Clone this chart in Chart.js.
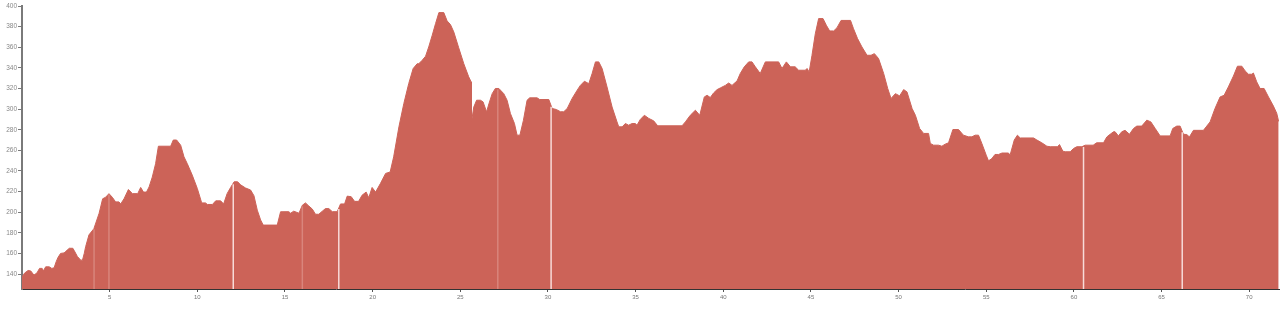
<!DOCTYPE html>
<html>
<head>
<meta charset="utf-8">
<script src="https://cdn.jsdelivr.net/npm/chart.js@4/dist/chart.umd.min.js"></script>
<style>
  html, body { margin: 0; padding: 0; background: #ffffff; }
  #wrap { width: 1284px; height: 309px; }
</style>
</head>
<body>
<div id="wrap"><canvas id="c" width="1284" height="309"></canvas></div>
<script>
// Distance along route (km)
const distanceKm = [
  0.0, 0.15, 0.35, 0.5, 0.68, 0.85, 1.0, 1.15, 1.22, 1.35, 1.55, 1.7, 1.83, 1.95, 2.05, 2.2, 2.4, 2.5, 2.7, 2.9,
  2.97, 3.16, 3.35, 3.45, 3.55, 3.63, 3.82, 4.1, 4.4, 4.6, 4.77, 4.96, 5.15, 5.34, 5.53, 5.63, 5.82, 6.07, 6.3, 6.6,
  6.77, 6.93, 7.1, 7.25, 7.43, 7.62, 7.78, 8.48, 8.63, 8.82, 9.05, 9.24, 9.43, 9.71, 10.0, 10.25, 10.47, 10.57, 10.86, 11.05,
  11.33, 11.5, 11.7, 11.9, 12.1, 12.3, 12.47, 12.75, 13.04, 13.23, 13.42, 13.61, 13.76, 14.56, 14.75, 15.22, 15.32, 15.5, 15.8, 15.99,
  16.17, 16.36, 16.56, 16.74, 16.93, 17.13, 17.31, 17.5, 17.7, 17.98, 18.17, 18.4, 18.55, 18.78, 18.97, 19.2, 19.4, 19.63, 19.78, 19.97,
  20.17, 20.45, 20.74, 21.0, 21.2, 21.5, 21.78, 22.06, 22.31, 22.54, 22.63, 22.83, 23.02, 23.2, 23.4, 23.59, 23.78, 24.06, 24.25, 24.44,
  24.63, 24.9, 25.2, 25.48, 25.62, 25.64, 25.77, 25.93, 26.15, 26.3, 26.5, 26.63, 26.82, 27.0, 27.2, 27.48, 27.67, 27.86, 28.09, 28.24,
  28.4, 28.6, 28.81, 28.96, 29.38, 29.53, 30.05, 30.24, 30.48, 30.72, 30.9, 31.1, 31.38, 31.67, 31.85, 32.08, 32.33, 32.52, 32.71, 32.9,
  33.09, 33.37, 33.66, 33.94, 34.04, 34.23, 34.42, 34.6, 34.8, 34.98, 35.08, 35.27, 35.5, 35.75, 36.03, 36.26, 37.65, 37.84, 38.12, 38.41,
  38.66, 38.92, 39.08, 39.26, 39.45, 39.65, 39.83, 40.12, 40.31, 40.5, 40.79, 40.97, 41.2, 41.45, 41.64, 41.83, 42.11, 42.4, 43.16, 43.35,
  43.6, 43.83, 44.1, 44.3, 44.68, 44.78, 44.9, 45.06, 45.25, 45.44, 45.69, 45.88, 46.07, 46.3, 46.49, 46.72, 47.26, 47.43, 47.66, 47.91,
  48.2, 48.43, 48.62, 48.86, 49.15, 49.38, 49.57, 49.82, 50.06, 50.29, 50.48, 50.77, 50.96, 51.2, 51.43, 51.71, 51.81, 52.0, 52.28, 52.47,
  52.66, 52.85, 53.1, 53.42, 53.7, 53.99, 54.18, 54.37, 54.56, 54.75, 55.0, 55.13, 55.32, 55.5, 55.7, 55.9, 56.27, 56.36, 56.6, 56.78,
  56.94, 57.7, 57.89, 58.17, 58.46, 58.65, 59.07, 59.18, 59.37, 59.5, 59.79, 59.98, 60.17, 60.46, 60.64, 61.1, 61.3, 61.69, 61.88, 62.07,
  62.26, 62.35, 62.54, 62.73, 62.92, 63.17, 63.4, 63.59, 63.87, 64.16, 64.39, 64.64, 64.92, 65.49, 65.64, 65.87, 66.06, 66.25, 66.44, 66.59,
  66.82, 67.39, 67.58, 67.77, 68.05, 68.34, 68.57, 68.81, 69.1, 69.33, 69.58, 69.77, 69.96, 70.15, 70.24, 70.43, 70.62, 70.85, 71.1, 71.38,
  71.57, 71.68
];

// Elevation (m)
const elevationM = [
  137, 141, 143.5, 143, 139, 141, 145.5, 145.5, 143, 147, 147, 145.5, 146, 152, 156, 160, 160.5, 162, 165, 165,
  163, 157, 153.5, 153.5, 160, 166.5, 178, 184, 199, 213, 214.5, 218, 214.5, 210, 210, 208, 213, 222, 218, 218,
  224, 219.5, 219.5, 224.5, 234, 247, 264, 264, 270, 270, 265, 253.7, 247, 236, 223, 209, 209, 207.5, 207.5, 211,
  211, 208, 218, 224, 229.5, 229.5, 226.5, 223.5, 221.5, 216, 202, 192.5, 187.5, 187.5, 200.4, 200.5, 199, 201, 199, 206.7,
  209, 206, 203, 198, 198, 201, 203.5, 203.5, 200.5, 200.5, 208, 208, 215.6, 215, 210.5, 210.5, 216.5, 219.5, 214, 224,
  219.5, 228, 237.6, 239, 253.7, 282.8, 305.4, 324.8, 339.3, 344, 344, 347.4, 351.3, 360.3, 371.6, 383, 393.6, 393.6, 385.5, 382,
  374.8, 360, 344, 331.3, 326.4, 287.6, 302, 308.6, 308.6, 307, 297.3, 305, 315, 320, 320, 315, 308.6, 295.7, 286, 274.7,
  274.7, 289, 308.6, 310.9, 310.9, 309.3, 309.3, 300.6, 299.6, 297.4, 297.4, 300.6, 310.3, 318.4, 323, 327, 324.7, 334.5, 345.8, 345.8,
  339.4, 321.5, 302, 287.6, 282.8, 282.8, 286, 284.4, 286, 286, 284.4, 290, 294, 291, 288.6, 283.8, 283.8, 287.6, 294, 298.9,
  294, 311.8, 313.4, 311.2, 315.7, 318.9, 320.5, 323, 325.3, 323, 327.4, 334.5, 341, 345.8, 345.8, 341, 334.5, 345.8, 345.8, 339.4,
  345.8, 341, 341, 337.7, 337.7, 339.4, 336, 352, 373, 387.8, 387.8, 381.3, 375.8, 375.8, 379, 386, 386, 378, 368.4, 360.3,
  352.2, 352.2, 353.8, 349, 334.5, 320, 310.3, 315, 312.8, 318.9, 316.7, 300.6, 294, 281.2, 276.4, 276.4, 266.7, 265, 265, 264,
  266, 267.3, 280.2, 280.2, 274.7, 273.1, 273.1, 274.7, 274.7, 266.7, 255.3, 249.8, 252, 256, 256, 257.4, 257.4, 255.3, 270, 274.7,
  272, 272, 270, 267.3, 264, 263.5, 263.5, 265.6, 259.2, 258.6, 258.6, 261.8, 263.5, 263.5, 265, 265, 267.3, 267.3, 273, 275.6,
  278, 278, 274, 278, 279.4, 275.6, 281.2, 283.5, 283.5, 289.3, 287.6, 281.2, 274, 274, 281.2, 283.5, 283.5, 275.6, 275.3, 273,
  279.4, 279.4, 283.5, 287.6, 300.6, 311.8, 313.4, 321.5, 332, 341.6, 341.6, 337, 333.8, 333.8, 335, 326.4, 320, 320, 311.8, 303,
  296, 288
];

// Segment boundaries (km)
const segmentBreaksMain = [12.05, 18.07, 30.18, 60.55, 66.18];
const segmentBreaksMinor = [4.11, 4.96, 15.99, 27.14];

// Axis ticks
const xTickValues = [5, 10, 15, 20, 25, 30, 35, 40, 45, 50, 55, 60, 65, 70];
const yTickValues = [140, 160, 180, 200, 220, 240, 260, 280, 300, 320, 340, 360, 380, 400];

const xMin = 0, xMax = 71.7;
const yMin = 125.5, yMax = 400;

function elevAt(km) {
  for (let i = 1; i < distanceKm.length; i++) {
    if (distanceKm[i] >= km) {
      const t = (km - distanceKm[i - 1]) / (distanceKm[i] - distanceKm[i - 1]);
      return elevationM[i - 1] + t * (elevationM[i] - elevationM[i - 1]);
    }
  }
  return elevationM[elevationM.length - 1];
}

const profile = distanceKm.map((d, i) => ({ x: d, y: elevationM[i] }));

function breakDataset(km, color) {
  return {
    data: [{ x: km, y: yMin }, { x: km, y: elevAt(km) - 1 }],
    borderColor: color,
    borderWidth: 1.5,
    pointRadius: 0,
    fill: false,
    order: 0
  };
}

const datasets = [
  ...segmentBreaksMain.map(k => breakDataset(k, 'rgba(255,240,238,0.85)')),
  ...segmentBreaksMinor.map(k => breakDataset(k, 'rgba(255,235,232,0.25)')),
  {
    data: profile,
    borderColor: '#cc6358',
    backgroundColor: '#cc6358',
    borderWidth: 1,
    pointRadius: 0,
    tension: 0,
    fill: 'start',
    order: 1
  }
];

new Chart(document.getElementById('c'), {
  type: 'line',
  data: { datasets },
  options: {
    responsive: false,
    animation: false,
    devicePixelRatio: 1,
    layout: { padding: { top: 6, right: 5, left: 0, bottom: 0 } },
    plugins: { legend: { display: false }, tooltip: { enabled: false } },
    scales: {
      x: {
        type: 'linear',
        min: xMin,
        max: xMax,
        afterBuildTicks: s => { s.ticks = xTickValues.map(v => ({ value: v })); },
        afterFit: s => { s.height = 20; },
        border: { display: true, color: '#333333', width: 1 },
        grid: { drawOnChartArea: false, drawTicks: true, tickLength: 3, color: '#555555' },
        ticks: {
          padding: 2,
          maxRotation: 0,
          autoSkip: false,
          color: '#777777',
          font: { family: 'Liberation Sans, Arial, sans-serif', size: 6 }
        }
      },
      y: {
        type: 'linear',
        min: yMin,
        max: yMax,
        afterBuildTicks: s => { s.ticks = yTickValues.map(v => ({ value: v })); },
        afterFit: s => { s.width = 22; },
        border: { display: true, color: '#7a7a7a', width: 2 },
        grid: { drawOnChartArea: false, drawTicks: true, tickLength: 4, color: '#7a7a7a' },
        ticks: {
          padding: 1,
          autoSkip: false,
          color: '#888888',
          font: { family: 'Liberation Sans, Arial, sans-serif', size: 6.5 }
        }
      }
    }
  }
});
</script>
</body>
</html>
